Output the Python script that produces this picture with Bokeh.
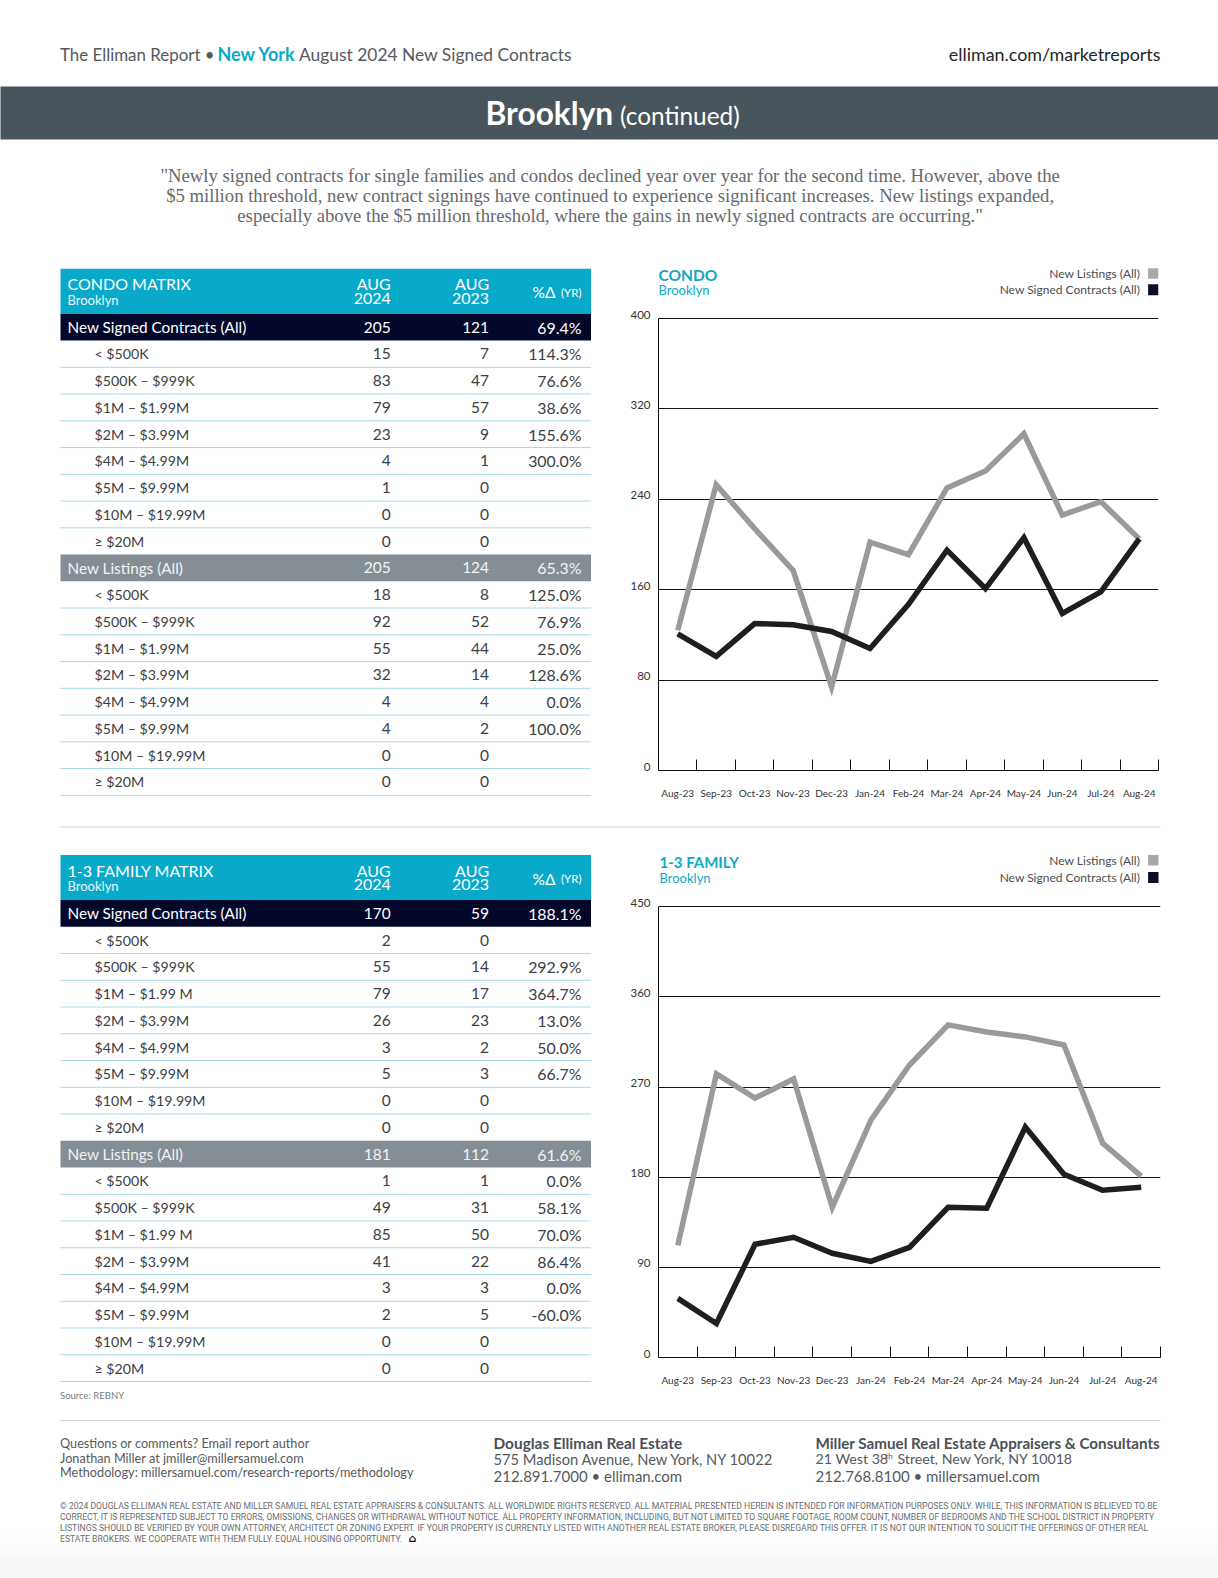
from bokeh.plotting import figure
from bokeh.layouts import column, row
from bokeh.models import Range1d, FixedTicker, LinearAxis
from bokeh.core.properties import value
from bokeh.embed import file_html
from bokeh.resources import INLINE

months = ["Aug-23","Sep-23","Oct-23","Nov-23","Dec-23","Jan-24","Feb-24","Mar-24","Apr-24","May-24","Jun-24","Jul-24","Aug-24"]
condo_listings = [124,253,214,177,74,202,191,250,265,298,226,238,205]
condo_contracts = [121,101,130,129,123,108,147,195,161,206,139,158,205]
family_listings = [112,283,259,278,150,237,292,332,325,320,312,214,181]
family_contracts = [59,34,113,120,104,96,110,150,149,230,183,167,170]
condo_ticks = [0,80,160,240,320,400]
family_ticks = [0,90,180,270,360,450]

tiers = ["< $500K","$500K – $999K","$1M – $1.99M","$2M – $3.99M","$4M – $4.99M","$5M – $9.99M","$10M – $19.99M","≥ $20M"]
tiers_family = ["< $500K","$500K – $999K","$1M – $1.99 M","$2M – $3.99M","$4M – $4.99M","$5M – $9.99M","$10M – $19.99M","≥ $20M"]
condo_c24 = [205,15,83,79,23,4,1,0,0]
condo_c23 = [121,7,47,57,9,1,0,0,0]
condo_cp = ["69.4%","114.3%","76.6%","38.6%","155.6%","300.0%","","",""]
condo_l24 = [205,18,92,55,32,4,4,0,0]
condo_l23 = [124,8,52,44,14,4,2,0,0]
condo_lp = ["65.3%","125.0%","76.9%","25.0%","128.6%","0.0%","100.0%","",""]
family_c24 = [170,2,55,79,26,3,5,0,0]
family_c23 = [59,0,14,17,23,2,3,0,0]
family_cp = ["188.1%","","292.9%","364.7%","13.0%","50.0%","66.7%","",""]
family_l24 = [181,1,49,85,41,3,2,0,0]
family_l23 = [112,1,31,50,22,3,5,0,0]
family_lp = ["61.6%","0.0%","58.1%","70.0%","86.4%","0.0%","-60.0%","",""]

TEAL = "#08a9c9"; DARK = "#03082a"; GRAY = "#858e94"; TXT = "#3c4043"
LGRAY = "#a7a8ac"; LINEG = "#999a9c"; LINED = "#1e1e1e"
SANS = "Lato"

def canvas(w, h, x0=0, x1=None, **kw):
    p = figure(width=w, height=h, x_range=Range1d(x0, w if x1 is None else x1), y_range=Range1d(h, 0),
               output_backend="svg", toolbar_location=None, **{"min_border": 0, **kw})
    p.axis.visible = False
    p.grid.visible = False
    p.outline_line_color = None
    return p

def tx(p, x, y, s, size, color=TXT, align="left", font=SANS, style="normal"):
    p.text([x], [y], text=[s], text_font=value(font), text_font_size=f"{size}px",
           text_color=color, text_align=align, text_baseline="middle", text_font_style=style)

def box(p, x0, x1, y0, y1, color):
    p.quad(left=[x0], right=[x1], top=[y0], bottom=[y1], fill_color=color, line_color=None)

# ---------- page header
head = canvas(1218, 262)
tx(head, 59.5, 53.5, "The Elliman Report •", 16.9, "#55595c")
tx(head, 217, 53.5, "New York", 18, TEAL, style="bold")
tx(head, 298.5, 53.5, "August 2024 New Signed Contracts", 17.4, "#55595c")
tx(head, 1160, 53.5, "elliman.com/marketreports", 17.9, "#22262a", align="right")
box(head, -2, 1220, 86, 139, "#48555c")
tx(head, 485, 112.5, "Brooklyn", 31.7, "#ffffff", style="bold")
tx(head, 619.5, 114.5, "(continued)", 24.4, "#ffffff")
quote = ['"Newly signed contracts for single families and condos declined year over year for the second time. However, above the',
         '$5 million threshold, new contract signings have continued to experience significant increases. New listings expanded,',
         'especially above the $5 million threshold, where the gains in newly signed contracts are occurring."']
for yy, s in zip([174.5, 195, 215], quote):
    tx(head, 609.6, yy, s, 18.7, "#66696d", align="center", font="Liberation Serif")

# ---------- tables
ROW_H = 26.75
def table(title, tier_names, c24, c23, cp, l24, l23, lp, top, fig_h):
    p = canvas(620, fig_h)
    L, R = 60, 590.5
    box(p, L, R, top, top + 45, TEAL)
    tx(p, 67, top + 15, title, 16, "#ffffff")
    tx(p, 67, top + 31, "Brooklyn", 13, "#e8f6fa")
    for xx, a, b in [(390.3, "AUG", "2024"), (488.6, "AUG", "2023")]:
        tx(p, xx, top + 15, a, 16, "#ffffff", align="right")
        tx(p, xx, top + 29.5, b, 16, "#ffffff", align="right")
    tx(p, 555, top + 23.5, "%Δ", 15.5, "#ffffff", align="right")
    tx(p, 581, top + 23.5, "(YR)", 11.5, "#ffffff", align="right")
    y = top + 45
    groups = [("New Signed Contracts (All)", DARK, c24, c23, cp),
              ("New Listings (All)", GRAY, l24, l23, lp)]
    for name, fill, v24, v23, pc in groups:
        box(p, L, R, y, y + ROW_H, fill)
        cy = y + ROW_H / 2
        col = "#ffffff" if fill == DARK else "#f2f3f4"
        tx(p, 67, cy, name, 15.3, col)
        tx(p, 390.3, cy, str(v24[0]), 15.5, col, align="right")
        tx(p, 488.6, cy, str(v23[0]), 15.5, col, align="right")
        tx(p, 581, cy, pc[0], 15.9, col, align="right")
        y += ROW_H
        for i, t in enumerate(tier_names):
            cy = y + ROW_H / 2
            tx(p, 94, cy, t, 14.2)
            tx(p, 390.3, cy, str(v24[i + 1]), 15.5, align="right")
            tx(p, 488.6, cy, str(v23[i + 1]), 15.5, align="right")
            tx(p, 581, cy, pc[i + 1], 15.9, align="right")
            y += ROW_H
            if not (i == len(tier_names) - 1 and fill == DARK):
                p.segment([L], [y], [R], [y], line_color="#a8d8e6", line_width=1)
    return p

# ---------- chart title + legend strip (x in px from the left of the chart column)
def strip(title, h, y1, y2, lx, tsize, border_right):
    p = canvas(598, h, x0=38, x1=598 - border_right, min_border_left=38, min_border_right=border_right)
    tx(p, lx, y1, title, tsize, "#10a9c4", style="bold")
    tx(p, lx, y2, "Brooklyn", 13, "#10a9c4")
    tx(p, 519.6, y1 - 1.5, "New Listings (All)", 12, "#4a4d50", align="right")
    tx(p, 519.6, y2 - 1, "New Signed Contracts (All)", 12, "#4a4d50", align="right")
    box(p, 527.6, 538, y1 - 7, y1 + 3.5, LGRAY)
    box(p, 527.6, 538, y2 - 6, y2 + 5, "#0a0e28")
    return p

# ---------- charts
def chart(listings, contracts, ticks, h, border_top, border_bottom, scale, right):
    ymax = ticks[-1]
    frame_h = h - border_top - border_bottom
    yend = frame_h / scale
    p = figure(width=598, height=h, x_range=Range1d(-0.5, 12.5), y_range=Range1d(0, yend),
               output_backend="svg", toolbar_location=None,
               min_border_left=38, min_border_right=right,
               min_border_top=border_top, min_border_bottom=border_bottom)
    p.outline_line_color = None
    p.xgrid.visible = False
    p.ygrid.ticker = FixedTicker(ticks=ticks)
    p.ygrid.grid_line_color = "#111111"
    p.ygrid.grid_line_width = 1
    p.yaxis.ticker = FixedTicker(ticks=[])
    p.yaxis.bounds = (0, ymax)
    p.yaxis.axis_line_color = "#111111"
    p.yaxis.major_tick_line_color = None
    p.yaxis.minor_tick_line_color = None
    s = 4 / scale
    p.extra_y_ranges = {"lab": Range1d(-s, yend - s)}
    lab = LinearAxis(y_range_name="lab", ticker=FixedTicker(ticks=ticks),
                     axis_line_color=None, major_tick_line_color=None, minor_tick_line_color=None,
                     major_label_text_font=SANS, major_label_text_font_size="11.5px",
                     major_label_text_color="#333333", major_label_standoff=2)
    p.add_layout(lab, "left")
    ax = p.xaxis[0]
    ax.ticker = FixedTicker(ticks=list(range(13)), minor_ticks=[i + 0.5 for i in range(13)])
    ax.major_label_overrides = {i: m for i, m in enumerate(months)}
    ax.major_tick_line_color = None
    ax.major_tick_in = 0
    ax.major_tick_out = 0
    ax.minor_tick_line_color = "#111111"
    ax.minor_tick_in = 11
    ax.minor_tick_out = 0
    ax.axis_line_color = "#111111"
    ax.major_label_text_font = SANS
    ax.major_label_text_font_size = "10px"
    ax.major_label_text_color = "#333333"
    ax.major_label_standoff = 16
    xs = list(range(13))
    p.line(xs, listings, line_color=LINEG, line_width=5.5, line_join="miter")
    p.line(xs, contracts, line_color=LINED, line_width=5.5, line_join="miter")
    return p

row_a = row(
    table("CONDO MATRIX", tiers, condo_c24, condo_c23, condo_cp, condo_l24, condo_l23, condo_lp, 6.3, 553),
    column(strip("CONDO", 43, 12.7, 27.8, 38, 15.5, 60),
           chart(condo_listings, condo_contracts, condo_ticks, 510, 5, 45, 1.13, 60), spacing=0),
    spacing=0)

mid = canvas(1218, 35)
mid.segment([60], [11.5], [1160], [11.5], line_color="#cfd1d2", line_width=1)

row_b = row(
    table("1-3 FAMILY MATRIX", tiers_family, family_c24, family_c23, family_cp, family_l24, family_l23, family_lp, 4.5, 538),
    column(strip("1-3 FAMILY", 45, 11.4, 27.5, 39, 15, 58),
           chart(family_listings, family_contracts, family_ticks, 493, 3, 30, 1.004, 58), spacing=0),
    spacing=0)

# ---------- footer
foot = canvas(1218, 190)
O = 1388
for y0, c in [(1535, "#fdfdfd"), (1545, "#fbfbfb"), (1555, "#f9f9f9"), (1565, "#f7f7f7")]:
    box(foot, -2, 1220, y0 - O, 1578 - O, c)
tx(foot, 59.5, 1394.5 - O, "Source: REBNY", 9.5, "#777b7e")
foot.segment([60], [1420 - O], [1160], [1420 - O], line_color="#cfd1d2", line_width=1.2)
for yy, s in zip([1442, 1457, 1471.7], ["Questions or comments? Email report author",
                                        "Jonathan Miller at jmiller@millersamuel.com",
                                        "Methodology: millersamuel.com/research-reports/methodology"]):
    tx(foot, 59.5, yy - O, s, 12.7, "#55595c")
tx(foot, 493, 1442 - O, "Douglas Elliman Real Estate", 15.4, "#4b5056", style="bold")
tx(foot, 493, 1458.3 - O, "575 Madison Avenue, New York, NY 10022", 14.7, "#55595c")
tx(foot, 493, 1475 - O, "212.891.7000 • elliman.com", 15, "#55595c")
tx(foot, 815, 1442 - O, "Miller Samuel Real Estate Appraisers & Consultants", 15.2, "#4b5056", style="bold")
tx(foot, 815, 1458.3 - O, "21 West 38", 14.2, "#55595c")
tx(foot, 885, 1455.5 - O, "th", 8, "#55595c")
tx(foot, 1073, 1458.3 - O, "Street, New York, NY 10018", 14.2, "#55595c", align="right")
tx(foot, 815, 1475 - O, "212.768.8100 • millersamuel.com", 15, "#55595c")
legal = ["© 2024 DOUGLAS ELLIMAN REAL ESTATE AND MILLER SAMUEL REAL ESTATE APPRAISERS & CONSULTANTS. ALL WORLDWIDE RIGHTS RESERVED. ALL MATERIAL PRESENTED HEREIN IS INTENDED FOR INFORMATION PURPOSES ONLY. WHILE, THIS INFORMATION IS BELIEVED TO BE",
         "CORRECT, IT IS REPRESENTED SUBJECT TO ERRORS, OMISSIONS, CHANGES OR WITHDRAWAL WITHOUT NOTICE. ALL PROPERTY INFORMATION, INCLUDING, BUT NOT LIMITED TO SQUARE FOOTAGE, ROOM COUNT, NUMBER OF BEDROOMS AND THE SCHOOL DISTRICT IN PROPERTY",
         "LISTINGS SHOULD BE VERIFIED BY YOUR OWN ATTORNEY, ARCHITECT OR ZONING EXPERT. IF YOUR PROPERTY IS CURRENTLY LISTED WITH ANOTHER REAL ESTATE BROKER, PLEASE DISREGARD THIS OFFER. IT IS NOT OUR INTENTION TO SOLICIT THE OFFERINGS OF OTHER REAL",
         "ESTATE BROKERS. WE COOPERATE WITH THEM FULLY. EQUAL HOUSING OPPORTUNITY."]
for yy, s in zip([1505, 1516.3, 1527.3, 1538.3], legal):
    tx(foot, 59.5, yy - O, s, 8.65, "#6a6e72", font="Roboto")
tx(foot, 412, 1538.3 - O, "⌂", 11, "#111111", align="center", font="DejaVu Sans", style="bold")

page = column(head, row_a, mid, row_b, foot, spacing=0)
open("out.html", "w").write(file_html(page, INLINE))
